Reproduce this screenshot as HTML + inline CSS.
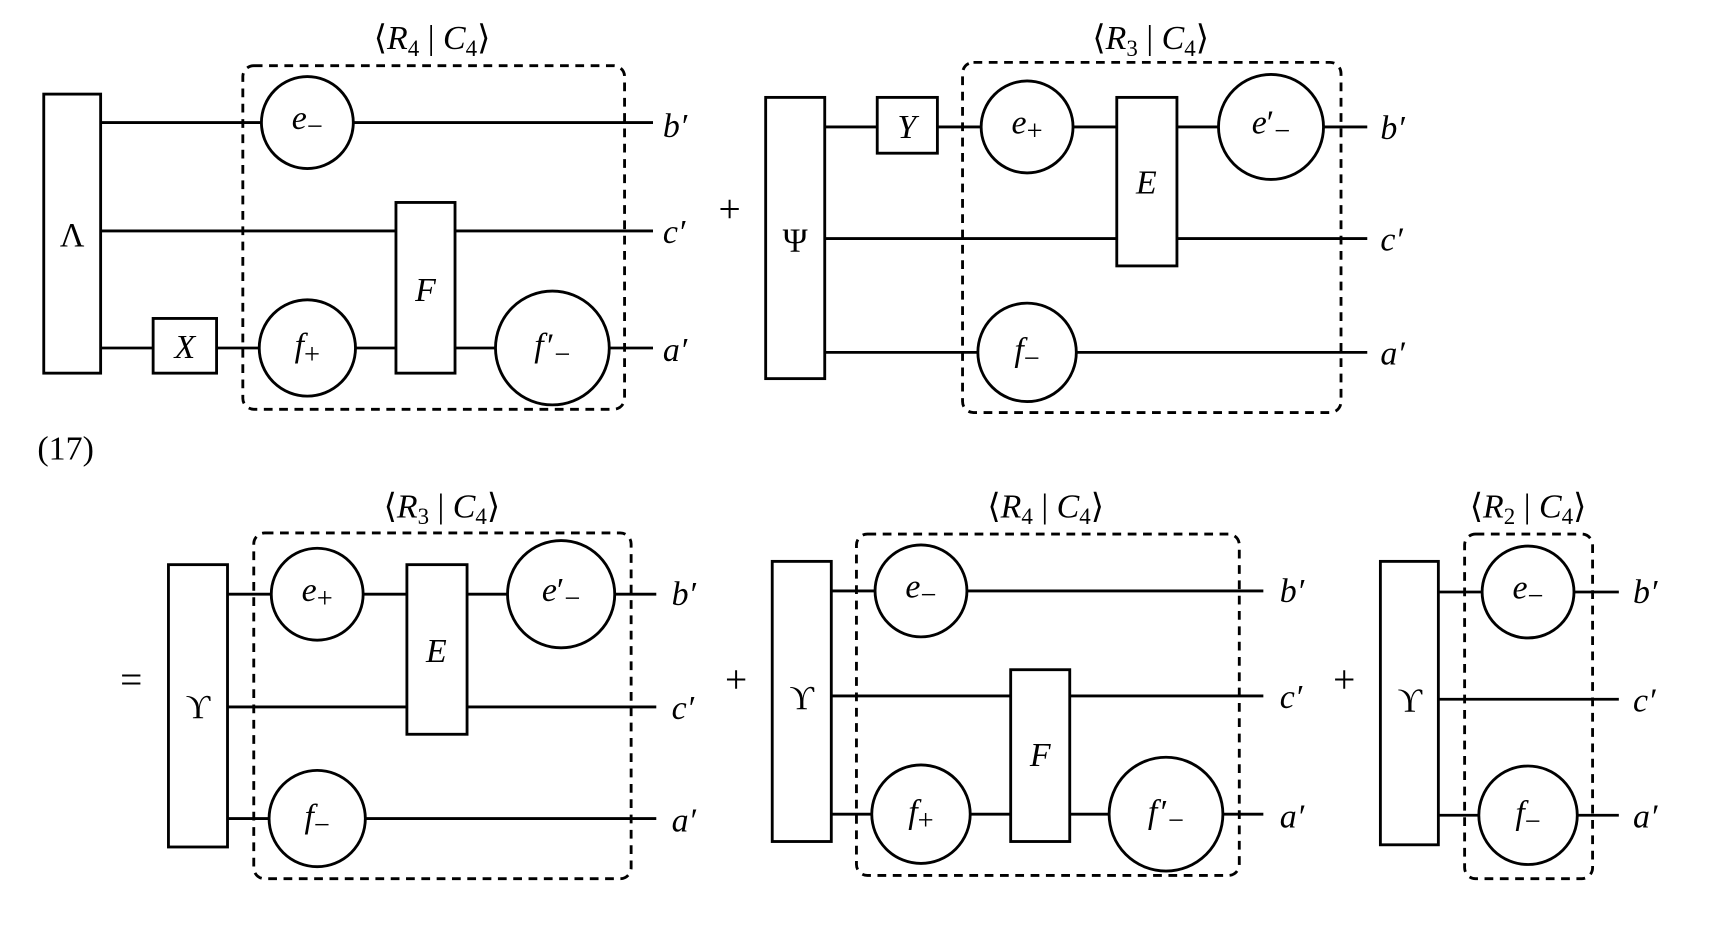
<!DOCTYPE html>
<html><head><meta charset="utf-8"><style>
html,body{margin:0;padding:0;background:#fff;width:1714px;height:940px;overflow:hidden}
svg{display:block}
text{font-family:"Liberation Serif",serif;fill:#000}
.i{font-style:italic}
</style></head><body>
<svg width="1714" height="940" viewBox="0 0 1567 859" preserveAspectRatio="none">
<g stroke="#000" stroke-width="2.6" fill="none">
<line x1="92" y1="112" x2="597" y2="112"/>
<line x1="92" y1="211" x2="597" y2="211"/>
<line x1="92" y1="318" x2="597" y2="318"/>
<rect x="222" y="60" width="349" height="314" rx="10" stroke-dasharray="8,6"/>
<rect x="40" y="86" width="52" height="255" fill="#fff"/>
<rect x="140" y="291" width="58" height="50" fill="#fff"/>
<circle cx="281" cy="112" r="42" fill="#fff"/>
<circle cx="281" cy="318" r="44" fill="#fff"/>
<rect x="362" y="185" width="54" height="156" fill="#fff"/>
<circle cx="505" cy="318" r="52" fill="#fff"/>
<line x1="754" y1="116" x2="1250" y2="116"/>
<line x1="754" y1="218" x2="1250" y2="218"/>
<line x1="754" y1="322" x2="1250" y2="322"/>
<rect x="880" y="57" width="346" height="320" rx="10" stroke-dasharray="8,6"/>
<rect x="700" y="89" width="54" height="257" fill="#fff"/>
<rect x="802" y="89" width="55" height="51" fill="#fff"/>
<circle cx="939" cy="116" r="42" fill="#fff"/>
<rect x="1021" y="89" width="55" height="154" fill="#fff"/>
<circle cx="1162" cy="116" r="48" fill="#fff"/>
<circle cx="939" cy="322" r="45" fill="#fff"/>
<line x1="208" y1="543" x2="600" y2="543"/>
<line x1="208" y1="646" x2="600" y2="646"/>
<line x1="208" y1="748" x2="600" y2="748"/>
<rect x="232" y="487" width="345" height="316" rx="10" stroke-dasharray="8,6"/>
<rect x="154" y="516" width="54" height="258" fill="#fff"/>
<circle cx="290" cy="543" r="42" fill="#fff"/>
<rect x="372" y="516" width="55" height="155" fill="#fff"/>
<circle cx="513" cy="543" r="49" fill="#fff"/>
<circle cx="290" cy="748" r="44" fill="#fff"/>
<line x1="760" y1="540" x2="1155" y2="540"/>
<line x1="760" y1="636" x2="1155" y2="636"/>
<line x1="760" y1="744" x2="1155" y2="744"/>
<rect x="783" y="488" width="350" height="312" rx="10" stroke-dasharray="8,6"/>
<rect x="706" y="513" width="54" height="256" fill="#fff"/>
<circle cx="842" cy="540" r="42" fill="#fff"/>
<rect x="924" y="612" width="54" height="157" fill="#fff"/>
<circle cx="842" cy="744" r="45" fill="#fff"/>
<circle cx="1066" cy="744" r="52" fill="#fff"/>
<line x1="1315" y1="541" x2="1480" y2="541"/>
<line x1="1315" y1="639" x2="1480" y2="639"/>
<line x1="1315" y1="745" x2="1480" y2="745"/>
<rect x="1339" y="488" width="117" height="315" rx="10" stroke-dasharray="8,6"/>
<rect x="1262" y="513" width="53" height="259" fill="#fff"/>
<circle cx="1397" cy="541" r="42" fill="#fff"/>
<circle cx="1397" cy="745" r="45" fill="#fff"/>
</g>
<g font-size="31" text-anchor="middle">
<text x="395" y="45">⟨<tspan class="i">R</tspan><tspan font-size="21" dy="6">4</tspan><tspan dy="-6"> | </tspan><tspan class="i">C</tspan><tspan font-size="21" dy="6">4</tspan><tspan dy="-6">⟩</tspan></text>
<text x="1052" y="45">⟨<tspan class="i">R</tspan><tspan font-size="21" dy="6">3</tspan><tspan dy="-6"> | </tspan><tspan class="i">C</tspan><tspan font-size="21" dy="6">4</tspan><tspan dy="-6">⟩</tspan></text>
<text x="404" y="473">⟨<tspan class="i">R</tspan><tspan font-size="21" dy="6">3</tspan><tspan dy="-6"> | </tspan><tspan class="i">C</tspan><tspan font-size="21" dy="6">4</tspan><tspan dy="-6">⟩</tspan></text>
<text x="956" y="473">⟨<tspan class="i">R</tspan><tspan font-size="21" dy="6">4</tspan><tspan dy="-6"> | </tspan><tspan class="i">C</tspan><tspan font-size="21" dy="6">4</tspan><tspan dy="-6">⟩</tspan></text>
<text x="1397" y="473">⟨<tspan class="i">R</tspan><tspan font-size="21" dy="6">2</tspan><tspan dy="-6"> | </tspan><tspan class="i">C</tspan><tspan font-size="21" dy="6">4</tspan><tspan dy="-6">⟩</tspan></text>
<text x="66" y="225">Λ</text>
<text x="727" y="230">Ψ</text>
<text x="181" y="656">ϒ</text>
<text x="733" y="648">ϒ</text>
<text x="1289" y="650">ϒ</text>
<text class="i" x="169" y="327">X</text>
<text class="i" x="829" y="126">Y</text>
<text class="i" x="389" y="275">F</text>
<text class="i" x="1048" y="177">E</text>
<text class="i" x="399" y="605">E</text>
<text class="i" x="951" y="700">F</text>
<text x="667" y="203" font-size="36">+</text>
<text x="120" y="633" font-size="36">=</text>
<text x="673" y="633" font-size="36">+</text>
<text x="1229" y="633" font-size="36">+</text>
<text x="60" y="420">(17)</text>
<text x="281" y="118"><tspan class="i">e</tspan><tspan font-size="26" dy="6">−</tspan></text>
<text x="281" y="326"><tspan class="i">f</tspan><tspan font-size="26" dy="6">+</tspan></text>
<text x="505" y="326"><tspan class="i">f</tspan><tspan dx="3">′</tspan><tspan font-size="26" dy="6">−</tspan></text>
<text x="939" y="122"><tspan class="i">e</tspan><tspan font-size="26" dy="6">+</tspan></text>
<text x="1162" y="122"><tspan class="i">e</tspan>′<tspan font-size="26" dy="6">−</tspan></text>
<text x="939" y="330"><tspan class="i">f</tspan><tspan font-size="26" dy="6">−</tspan></text>
<text x="290" y="549"><tspan class="i">e</tspan><tspan font-size="26" dy="6">+</tspan></text>
<text x="513" y="549"><tspan class="i">e</tspan>′<tspan font-size="26" dy="6">−</tspan></text>
<text x="290" y="756"><tspan class="i">f</tspan><tspan font-size="26" dy="6">−</tspan></text>
<text x="842" y="546"><tspan class="i">e</tspan><tspan font-size="26" dy="6">−</tspan></text>
<text x="842" y="752"><tspan class="i">f</tspan><tspan font-size="26" dy="6">+</tspan></text>
<text x="1066" y="752"><tspan class="i">f</tspan><tspan dx="3">′</tspan><tspan font-size="26" dy="6">−</tspan></text>
<text x="1397" y="547"><tspan class="i">e</tspan><tspan font-size="26" dy="6">−</tspan></text>
<text x="1397" y="753"><tspan class="i">f</tspan><tspan font-size="26" dy="6">−</tspan></text>
</g>
<g font-size="31" class="i">
<text x="606" y="125">b′</text>
<text x="606" y="222">c′</text>
<text x="606" y="330">a′</text>
<text x="1262" y="127">b′</text>
<text x="1262" y="229">c′</text>
<text x="1262" y="333">a′</text>
<text x="614" y="553">b′</text>
<text x="614" y="657">c′</text>
<text x="614" y="760">a′</text>
<text x="1170" y="550">b′</text>
<text x="1170" y="647">c′</text>
<text x="1170" y="756">a′</text>
<text x="1493" y="551">b′</text>
<text x="1493" y="650">c′</text>
<text x="1493" y="756">a′</text>
</g>
</svg>
</body></html>
